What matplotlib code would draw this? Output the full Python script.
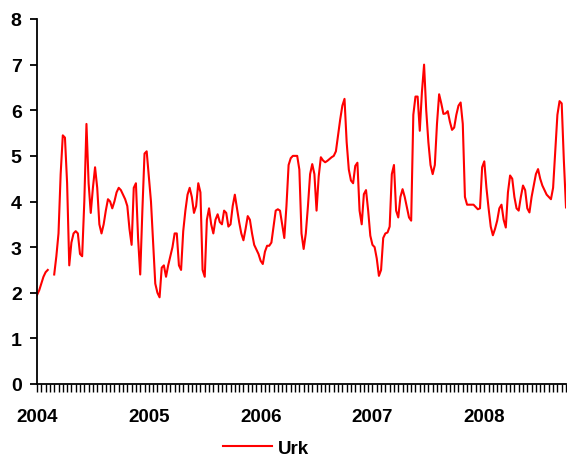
import numpy as np
import matplotlib
matplotlib.use("Agg")
import matplotlib.pyplot as plt

# weekly prices, week 0 = first week of 2004 (nan = missing)
urk = [
    1.95, 2.05, 2.2, 2.35, 2.45, 2.5, np.nan, np.nan, 2.4, 2.8,
    3.3, 4.6, 5.45, 5.4, 4.4, 2.6, 3.1, 3.3, 3.35, 3.3,
    2.85, 2.8, 4.0, 5.7, 4.4, 3.75, 4.3, 4.75, 4.3, 3.5,
    3.3, 3.5, 3.8, 4.05, 4.0, 3.85, 4.0, 4.2, 4.3, 4.25,
    4.15, 4.05, 3.9, 3.4, 3.05, 4.3, 4.4, 3.2, 2.4, 3.8,
    5.05, 5.1, 4.55, 4.0, 3.1, 2.2, 2.0, 1.9, 2.55, 2.6,
    2.35, 2.6, 2.8, 3.0, 3.3, 3.3, 2.6, 2.5, 3.35, 3.8,
    4.15, 4.3, 4.1, 3.75, 3.9, 4.4, 4.2, 2.5, 2.35, 3.6,
    3.85, 3.5, 3.3, 3.6, 3.72, 3.55, 3.5, 3.8, 3.75, 3.45,
    3.5, 3.9, 4.15, 3.85, 3.55, 3.3, 3.15, 3.4, 3.68, 3.6,
    3.3, 3.05, 2.95, 2.85, 2.7, 2.63, 2.9, 3.03, 3.03, 3.1,
    3.45, 3.8, 3.83, 3.8, 3.5, 3.2, 3.9, 4.8, 4.95, 5.0,
    5.0, 5.0, 4.7, 3.3, 2.96, 3.3, 3.9, 4.6, 4.82, 4.6,
    3.8, 4.55, 4.97, 4.9, 4.86, 4.89, 4.93, 4.97, 5.0, 5.1,
    5.45, 5.8, 6.1, 6.25, 5.3, 4.7, 4.46, 4.4, 4.78, 4.85,
    3.8, 3.5, 4.16, 4.25, 3.8, 3.25, 3.05, 3.0, 2.75, 2.37,
    2.5, 3.2, 3.3, 3.32, 3.45, 4.6, 4.8, 3.8, 3.65, 4.1,
    4.27, 4.1, 3.87, 3.65, 3.58, 5.9, 6.3, 6.3, 5.55, 6.4,
    7.0, 6.0, 5.3, 4.8, 4.6, 4.8, 5.7, 6.35, 6.15, 5.92,
    5.93, 5.98, 5.75, 5.57, 5.62, 5.9, 6.1, 6.17, 5.7, 4.1,
    3.93, 3.93, 3.93, 3.93, 3.88, 3.83, 3.85, 4.75, 4.88, 4.3,
    3.85, 3.45, 3.26, 3.4, 3.58, 3.85, 3.93, 3.6, 3.43, 4.2,
    4.57, 4.5, 4.1, 3.85, 3.8, 4.1, 4.35, 4.25, 3.85, 3.76,
    4.1, 4.35, 4.6, 4.71, 4.5, 4.35, 4.25, 4.15, 4.1, 4.05,
    4.3, 5.1, 5.9, 6.2, 6.15, 4.9, 3.87,
]
years = ["2004", "2005", "2006", "2007", "2008"]
weeks_per_year = 52

plt.rcParams['font.family'] = ['Liberation Sans', 'DejaVu Sans']
plt.rcParams['font.weight'] = 'bold'

fig = plt.figure(figsize=(5.67, 4.6), dpi=100)
ax = fig.add_axes([37 / 567, 75 / 460, 529 / 567, 365 / 460])

weeks = np.arange(len(urk))
ax.plot(weeks, urk, color='#FF0000', lw=1.5, label='Urk')

ax.set_xlim(0, len(urk) - 1)
ax.set_ylim(0, 8)
ax.set_yticks(range(0, 9))

ax.set_xticks([i * weeks_per_year for i in range(len(years))])
ax.set_xticklabels(years)
ax.set_xticks(range(0, len(urk), 2), minor=True)

for s in ['top', 'right']:
    ax.spines[s].set_visible(False)
for s in ['left', 'bottom']:
    ax.spines[s].set_linewidth(1.3)

ax.tick_params(axis='y', direction='out', length=5, width=1.3, labelsize=14, pad=6)
ax.tick_params(axis='x', which='major', direction='out', length=6, width=1.0,
               labelsize=13.5, pad=11)
ax.tick_params(axis='x', which='minor', direction='out', length=6, width=1.0)

fig.legend(loc='center', bbox_to_anchor=(266 / 567, 11 / 460), frameon=False,
           fontsize=13.5, handlelength=2.6, handletextpad=0.35)

fig.savefig('out.png', dpi=100)
